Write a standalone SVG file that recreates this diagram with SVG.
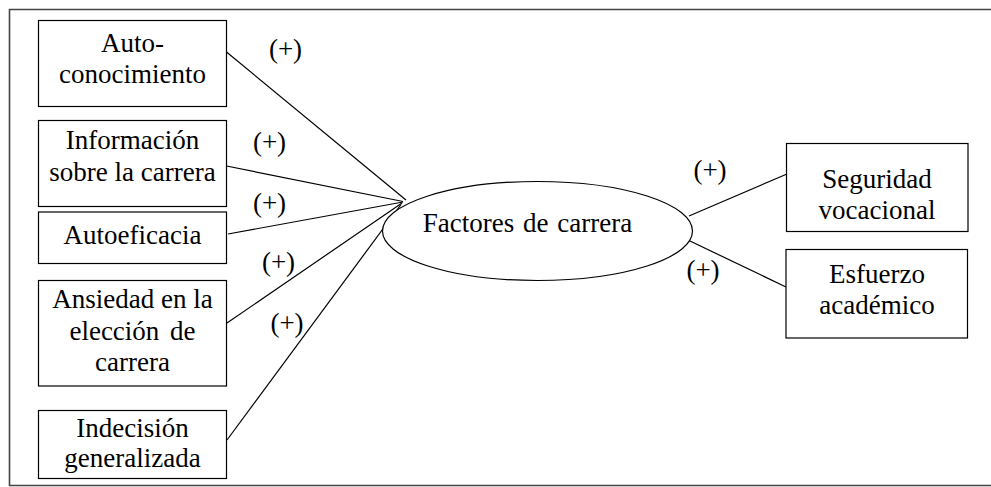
<svg xmlns="http://www.w3.org/2000/svg" width="991" height="487" viewBox="0 0 991 487">
<style>
.frame{fill:none;stroke:#444;stroke-width:1.6}
.box{fill:#fff;stroke:#000;stroke-width:1.2}
.edge{fill:none;stroke:#000;stroke-width:1.2}
.t{font-size:27px;fill:#000;text-anchor:middle}
</style>
<rect width="991" height="487" fill="#fff"/>
<path class="frame" d="M995 9.5 H9.5 V485.5 H995"/>
<g font-family="Liberation Serif, Times New Roman, DejaVu Serif, serif">
<g id="connectors">
<line class="edge" x1="226.5" y1="52" x2="406" y2="200"/>
<line class="edge" x1="226.5" y1="166" x2="403" y2="201.5"/>
<line class="edge" x1="228" y1="234" x2="403" y2="202"/>
<line class="edge" x1="227" y1="323" x2="402" y2="203"/>
<line class="edge" x1="227" y1="440" x2="401" y2="204.5"/>
<line class="edge" x1="689" y1="216" x2="787" y2="174"/>
<line class="edge" x1="690" y1="241" x2="786" y2="287"/>
<text class="t" x="285.5" y="58">(+)</text>
<text class="t" x="269.5" y="151">(+)</text>
<text class="t" x="269.5" y="212">(+)</text>
<text class="t" x="278.5" y="271">(+)</text>
<text class="t" x="287" y="332">(+)</text>
<text class="t" x="710" y="179">(+)</text>
<text class="t" x="703" y="279">(+)</text>
</g>
<g id="n-autoconocimiento">
<rect class="box" x="38.5" y="20.5" width="188" height="86"/>
<text class="t" x="132.5" y="52">Auto-</text>
<text class="t" x="132.5" y="83">conocimiento</text>
</g>
<g id="n-informacion">
<rect class="box" x="38.5" y="120.5" width="188" height="86"/>
<text class="t" x="132.5" y="149">Información</text>
<text class="t" x="132.5" y="181">sobre la carrera</text>
</g>
<g id="n-autoeficacia">
<rect class="box" x="38.5" y="212" width="188" height="51.5"/>
<text class="t" x="132.5" y="244">Autoeficacia</text>
</g>
<g id="n-ansiedad">
<rect class="box" x="38.5" y="280.5" width="188" height="105.5"/>
<text class="t" x="132.5" y="308">Ansiedad en la</text>
<text class="t" x="132.5" y="340" word-spacing="4">elección de</text>
<text class="t" x="132.5" y="371">carrera</text>
</g>
<g id="n-indecision">
<rect class="box" x="38.5" y="410.5" width="188" height="68"/>
<text class="t" x="132.5" y="437">Indecisión</text>
<text class="t" x="132.5" y="467">generalizada</text>
</g>
<g id="n-factores">
<ellipse class="box" cx="537.5" cy="231" rx="155" ry="49.5"/>
<text class="t" x="527.5" y="232" word-spacing="2">Factores de carrera</text>
</g>
<g id="n-seguridad">
<rect class="box" x="786.5" y="143.5" width="181.5" height="88"/>
<text class="t" x="877" y="188">Seguridad</text>
<text class="t" x="877" y="219">vocacional</text>
</g>
<g id="n-esfuerzo">
<rect class="box" x="786" y="249.5" width="181.5" height="88.5"/>
<text class="t" x="877" y="283">Esfuerzo</text>
<text class="t" x="877" y="314">académico</text>
</g>
</g>
</svg>
